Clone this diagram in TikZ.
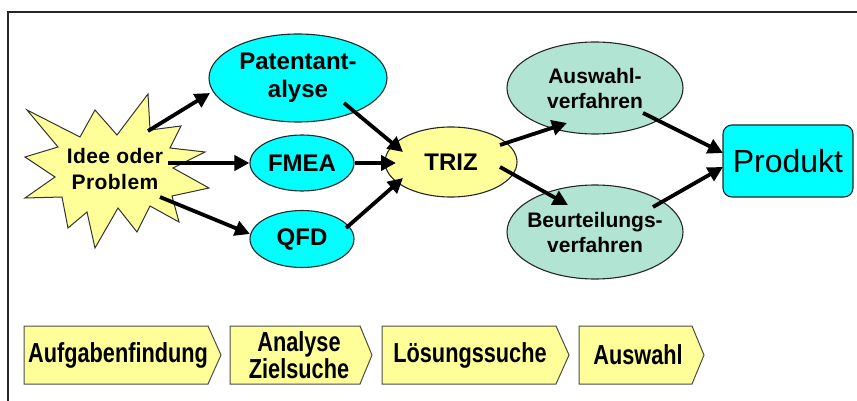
\documentclass[tikz,border=0pt]{standalone}
\usepackage{fontspec}
\setmainfont{Liberation Sans}
\newfontfamily\starfont{Liberation Sans}[LetterSpace=2]
\newfontfamily\narrowfont{Liberation Sans}[FakeStretch=0.79]
\usetikzlibrary{arrows.meta,calc,shapes.geometric}
\definecolor{cyanfill}{HTML}{00FFFF}
\definecolor{yelfill}{HTML}{FFFF99}
\definecolor{mintfill}{HTML}{B2E4D4}
\begin{document}
\begin{tikzpicture}[x=1pt,y=-1pt,
  ell/.style={ellipse, draw=black!85, line width=1.1pt, inner sep=0pt, align=center},
  bigtxt/.style={font=\fontsize{24}{28}\selectfont\bfseries},
  midtxt/.style={font=\fontsize{21}{25}\selectfont\bfseries},
  arr/.style={line width=3.8pt, -{Triangle[length=15pt,width=15pt]}},
  stepbox/.style={draw=black!70, fill=yelfill, line width=1pt},
  btxt/.style={font=\narrowfont\fontsize{27.5}{25}\selectfont\bfseries, align=center, inner sep=0pt}]
\useasboundingbox (0,0) rectangle (857,401);
% frame
\draw[line width=2pt, black!85] (8,401) -- (8,12) -- (857,12);
% star
\draw[fill=yelfill, draw=black!80, line width=1pt, line join=miter]
  (27,110) -- (80,137) -- (95,110) -- (117,135) -- (148,94) -- (150,130)
  -- (181,126) -- (170,148) -- (205,152) -- (173,168) -- (209,188)
  -- (172,196) -- (179,222) -- (150,206) -- (137,232) -- (118,208)
  -- (95,248) -- (87,212) -- (68,228) -- (62,197) -- (25,198)
  -- (55,177) -- (25,157) -- (58,147) -- cycle;
\node[font=\starfont\fontsize{21}{26}\selectfont\bfseries, align=center, inner sep=0pt] (idea) at (115,169) {Idee oder\\Problem};
% ellipses
\node[ell, fill=cyanfill, bigtxt, minimum width=178pt, minimum height=88pt] (pat) at (298,78) {Patentant-\\alyse};
\node[ell, fill=cyanfill, bigtxt, minimum width=104pt, minimum height=56pt] (fmea) at (302,163) {FMEA};
\node[ell, fill=cyanfill, bigtxt, minimum width=104pt, minimum height=57pt] (qfd) at (302,239) {QFD};
\node[ell, fill=yelfill, bigtxt, minimum width=132pt, minimum height=70pt] (triz) at (451,162) {TRIZ};
\node[ell, fill=mintfill, midtxt, minimum width=176pt, minimum height=92pt] (ausw) at (595,88) {Auswahl-\\verfahren};
\node[ell, fill=mintfill, midtxt, inner xsep=-12pt, minimum width=176pt, minimum height=94pt] (beur) at (595,232) {Beurteilungs-\\verfahren};
\node[draw=black!85, line width=1.1pt, fill=cyanfill, rounded corners=9pt, minimum width=130pt, minimum height=72pt, font=\fontsize{32}{36}\selectfont] (prod) at (788,161) {Produkt};
% arrows
\draw[arr] ($(idea)+(33,-38)$) -- ($(pat)+(-88,15)$);
\draw[arr] ($(idea)+(53,-6)$) -- (fmea.west);
\draw[arr] ($(idea)+(45,28)$) -- ($(qfd)+(-52,-5)$);
\draw[arr] ($(pat)+(46,25)$) -- ($(triz)+(-48,-10)$);
\draw[arr] (fmea.east) -- ($(triz)+(-55,1)$);
\draw[arr] ($(qfd)+(44,-11)$) -- ($(triz)+(-48,16)$);
\draw[arr] ($(triz)+(49,-17)$) -- ($(ausw)+(-28,35)$);
\draw[arr] ($(triz)+(49,5)$) -- ($(beur)+(-27,-27)$);
\draw[arr] ($(ausw)+(48,25)$) -- ($(prod)+(-65,-8)$);
\draw[arr] ($(beur)+(58,-25)$) -- ($(prod)+(-65,6)$);
% bottom phase boxes
\draw[stepbox] (24,326) -- (208,326) -- (221,355) -- (208,384) -- (24,384) -- cycle;
\draw[stepbox] (230,326) -- (360,326) -- (372,355) -- (360,384) -- (230,384) -- cycle;
\draw[stepbox] (382,326) -- (556,326) -- (569,355) -- (556,384) -- (382,384) -- cycle;
\draw[stepbox] (579,326) -- (692,326) -- (704,355) -- (692,384) -- (579,384) -- cycle;
\node[btxt] (b1) at (118,355) {Aufgabenfindung};
\node[btxt] (b2) at (299,355) {Analyse\\Zielsuche};
\node[btxt] (b3) at (470,355) {Lösungssuche};
\node[btxt] (b4) at (638,355) {Auswahl};
\end{tikzpicture}
\end{document}
